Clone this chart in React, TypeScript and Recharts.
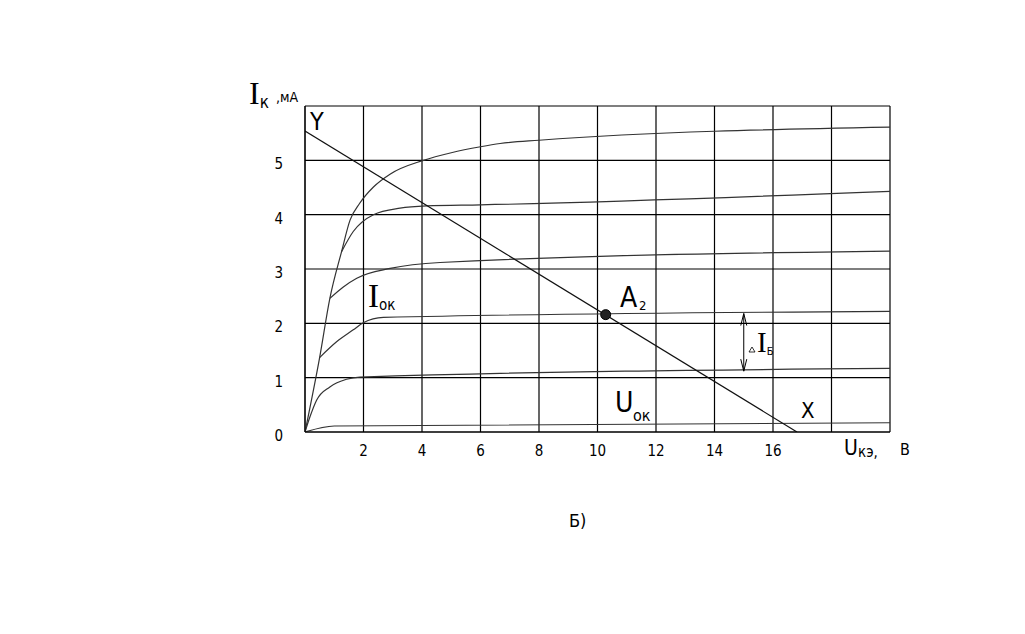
import {
  ComposedChart,
  Line,
  XAxis,
  YAxis,
  CartesianGrid,
  ReferenceDot,
  ReferenceLine,
} from "recharts";

// оси: Uкэ, В и Iк, мА
const xTicks = [0, 2, 4, 6, 8, 10, 12, 14, 16, 18, 20];
const xTickLabels = ["", "2", "4", "6", "8", "10", "12", "14", "16", "", ""];
const yTicks = [0, 1, 2, 3, 4, 5, 6];
const yTickLabels = ["0", "1", "2", "3", "4", "5", ""];

// выходные характеристики Iк(Uкэ) при разных токах базы
const curve0 = [
  { u: 0, i: 0 },
  { u: 1, i: 0.11 },
  { u: 20, i: 0.17 },
];
const curve1 = [
  { u: 0, i: 0 },
  { u: 0.17, i: 0.28 },
  { u: 0.4, i: 0.59 },
  { u: 0.85, i: 0.83 },
  { u: 1.42, i: 0.97 },
  { u: 1.88, i: 1.01 },
  { u: 20, i: 1.17 },
];
const curve2 = [
  { u: 0.5, i: 1.37 },
  { u: 1.08, i: 1.66 },
  { u: 1.65, i: 1.88 },
  { u: 1.99, i: 2.01 },
  { u: 2.68, i: 2.11 },
  { u: 20, i: 2.22 },
];
const curve3 = [
  { u: 0.85, i: 2.46 },
  { u: 1.31, i: 2.67 },
  { u: 1.77, i: 2.83 },
  { u: 2.91, i: 3.01 },
  { u: 4.62, i: 3.12 },
  { u: 20, i: 3.33 },
];
const curve4 = [
  { u: 1.25, i: 3.32 },
  { u: 1.65, i: 3.69 },
  { u: 2.34, i: 4.0 },
  { u: 3.25, i: 4.12 },
  { u: 4.16, i: 4.16 },
  { u: 6, i: 4.18 },
  { u: 20, i: 4.43 },
];
// верхняя кривая вместе с начальным крутым участком
const curve5 = [
  { u: 0, i: 0 },
  { u: 0.5, i: 1.37 },
  { u: 0.85, i: 2.46 },
  { u: 1.25, i: 3.32 },
  { u: 1.54, i: 3.9 },
  { u: 1.87, i: 4.21 },
  { u: 2.34, i: 4.51 },
  { u: 2.92, i: 4.75 },
  { u: 4.05, i: 5.0 },
  { u: 5.0, i: 5.14 },
  { u: 6.0, i: 5.25 },
  { u: 6.67, i: 5.31 },
  { u: 8.0, i: 5.37 },
  { u: 20, i: 5.61 },
];
const curves = [curve0, curve1, curve2, curve3, curve4, curve5];

// нагрузочная прямая Y-X
const loadLine = [
  { u: 0, i: 5.54 },
  { u: 16.82, i: 0 },
];

// рабочая точка A2
const pointA2 = { u: 10.28, i: 2.16 };

// стрелка ΔIб между соседними характеристиками
const deltaIb = { u: 15, top: 2.18, bottom: 1.12 };

const FONT = "'Liberation Sans Narrow', 'DejaVu Sans Condensed', 'DejaVu Sans', sans-serif";
const SERIF = "'Liberation Serif', serif";

const XTick = (props: any) => {
  const { x, y, payload } = props;
  const label = xTickLabels[xTicks.indexOf(payload.value)];
  return (
    <text x={x} y={y + 18} textAnchor="middle" fontFamily={FONT} fontSize={15} fill="#000">
      {label}
    </text>
  );
};

const YTick = (props: any) => {
  const { x, y, payload } = props;
  const label = yTickLabels[yTicks.indexOf(payload.value)];
  return (
    <text x={x} y={y + 9} textAnchor="end" fontFamily={FONT} fontSize={15} fill="#000">
      {label}
    </text>
  );
};

const ArrowShape = (p: any) => {
  const { x1, y1, x2, y2 } = p;
  const top = Math.min(y1, y2);
  const bot = Math.max(y1, y2);
  return (
    <g stroke="#000" strokeWidth={1} fill="none">
      <line x1={x1} y1={y1} x2={x2} y2={y2} />
      <path d={`M${x1 - 3},${top + 12} L${x1},${top} L${x1 + 3},${top + 12}`} />
      <path d={`M${x1 - 3},${bot - 12} L${x1},${bot} L${x1 + 3},${bot - 12}`} />
    </g>
  );
};

function App() {
  return (
    <div style={{ position: "relative", width: 1000, height: 600 }}>
      <ComposedChart
        width={1000}
        height={600}
        margin={{ top: 98, right: 118, bottom: 146, left: 237 }}
      >
        <CartesianGrid stroke="#000" strokeWidth={1.2} />
        <XAxis
          type="number"
          dataKey="u"
          domain={[0, 20]}
          ticks={xTicks}
          height={30}
          tickLine={false}
          tickMargin={0}
          axisLine={{ stroke: "#000" }}
          tick={XTick}
          allowDataOverflow
        />
        <YAxis
          type="number"
          domain={[0, 6]}
          ticks={yTicks}
          width={60}
          tickLine={false}
          tickMargin={16}
          axisLine={{ stroke: "#000" }}
          tick={YTick}
          allowDataOverflow
        />
        {curves.map((c, k) => (
          <Line
            key={k}
            data={c}
            dataKey="i"
            type="monotone"
            stroke="#333"
            strokeWidth={1.2}
            dot={false}
            activeDot={false}
            isAnimationActive={false}
          />
        ))}
        <Line
          data={loadLine}
          dataKey="i"
          type="linear"
          stroke="#111"
          strokeWidth={1.2}
          dot={false}
          activeDot={false}
          isAnimationActive={false}
        />
        <ReferenceDot x={pointA2.u} y={pointA2.i} r={5} fill="#222" stroke="#000" />
        <ReferenceLine
          segment={[
            { x: deltaIb.u, y: deltaIb.top },
            { x: deltaIb.u, y: deltaIb.bottom },
          ]}
          shape={ArrowShape}
        />
      </ComposedChart>

      {/* подписи, как на чертеже */}
      <svg
        width={1000}
        height={600}
        style={{ position: "absolute", left: 0, top: 0, pointerEvents: "none" }}
        fill="#000"
      >
        <text x={241} y={96}>
          <tspan fontFamily={SERIF} fontSize={32}>I</tspan>
          <tspan dy={4} fontFamily={FONT} fontSize={17}>к</tspan>
        </text>
        <text x={268} y={94} fontFamily={FONT} fontSize={14}>,мА</text>

        <text x={302} y={122} fontFamily={FONT} fontSize={25}>Y</text>

        <text x={360} y={299}>
          <tspan fontFamily={SERIF} fontSize={33}>I</tspan>
          <tspan dy={3} fontFamily={FONT} fontSize={15}>ок</tspan>
        </text>

        <text x={612} y={299} fontFamily={FONT} fontSize={28}>A</text>
        <text x={631} y={302} fontFamily={FONT} fontSize={13}>2</text>

        <text x={607} y={404} fontFamily={FONT} fontSize={28}>U</text>
        <text x={625} y={413} fontFamily={FONT} fontSize={16}>ок</text>

        <text x={793} y={410} fontFamily={FONT} fontSize={22}>X</text>

        <path d="M741,344 L744,339 L747,344 Z" fill="none" stroke="#000" strokeWidth={0.8} />
        <text x={749} y={344}>
          <tspan fontFamily={SERIF} fontSize={29}>I</tspan>
          <tspan dy={3} fontFamily={FONT} fontSize={11}>Б</tspan>
        </text>

        <text x={836} y={447} fontFamily={FONT} fontSize={21}>U</text>
        <text x={850} y={449} fontFamily={FONT} fontSize={15}>кэ, </text>
        <text x={892} y={447} fontFamily={FONT} fontSize={16}>В</text>

        <text x={561} y={519} fontFamily={FONT} fontSize={18}>Б)</text>
      </svg>
    </div>
  );
}

export default App;
